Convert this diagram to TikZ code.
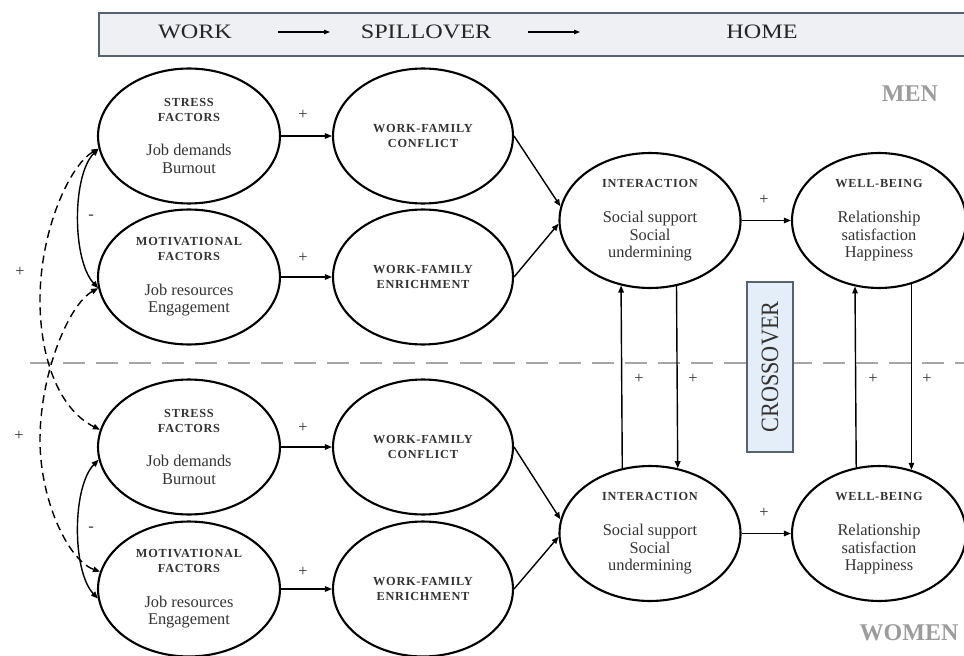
\documentclass[tikz,border=0pt]{standalone}
\usepackage{fontspec}
\setmainfont{Liberation Serif}
\usetikzlibrary{arrows.meta,shapes.geometric}
\newlength\pxu
\setlength\pxu{0.03cm}
\definecolor{bannerfill}{HTML}{EEF0F3}
\definecolor{bannerdraw}{HTML}{56626E}
\definecolor{crossfill}{HTML}{E4EEF9}
\definecolor{txt}{HTML}{333333}
\definecolor{sepgray}{HTML}{A6A6A6}
\definecolor{labgray}{HTML}{9C9C9C}
\newcommand\ttl[1]{{\fontsize{10.5}{12.75}\selectfont\bfseries\addfontfeatures{LetterSpace=6}#1}}
\newcommand\hdtxt[1]{\scalebox{1.18}[1]{\fontsize{17.5}{17.5}\selectfont #1}}
\begin{document}
\begin{tikzpicture}[x=0.03cm,y=-0.03cm,
  ell/.style={ellipse,draw=black,line width=1.8pt,minimum width=155.3pt,minimum height=115.2pt,
    inner sep=0pt,align=center,text=txt,font=\fontsize{14}{15}\selectfont},
  arr/.style={line width=1.2pt,-{Triangle[length=6pt,width=4.7pt]}},
  darr/.style={line width=1.2pt,{Triangle[length=6pt,width=4.7pt]}-{Triangle[length=6pt,width=4.7pt]}},
  dsh/.style={dash pattern=on 6.8pt off 4.3pt},
  sign/.style={text=txt,font=\fontsize{14}{14}\selectfont,inner sep=0pt},
  head/.style={text=black!85,inner sep=0pt},
  gender/.style={text=labgray,font=\fontsize{20.5}{20.5}\selectfont\bfseries,inner sep=0pt}]
\useasboundingbox (0,0) rectangle (964,656);
\fill[white] (0,0) rectangle (964,656);
% banner
\node[draw=bannerdraw,fill=bannerfill,line width=1.6pt,rectangle,anchor=north west,
  minimum width=751pt,minimum height=36.7pt,inner sep=0pt] (banner) at (98,12) {};
\node[head] (work) at (195,32) {\hdtxt{WORK}};
\node[head] (spill) at (426,32) {\hdtxt{SPILLOVER}};
\node[head] (home) at (762,32) {\hdtxt{HOME}};
\coordinate (a1s) at (278,32); \coordinate (a1e) at (330,32);
\coordinate (a2s) at (528,32); \coordinate (a2e) at (580,32);
\draw[line width=0.9pt,-{Triangle[length=5.1pt,width=3.8pt]}] (a1s) -- (a1e);
\draw[line width=0.9pt,-{Triangle[length=5.1pt,width=3.8pt]}] (a2s) -- (a2e);
% separator
\coordinate (sepL) at (30,363); \coordinate (sepR) at (966,363);
\draw[sepgray,line width=1.7pt,dash pattern=on 18.8pt off 9.4pt] (sepL) -- (sepR);
% ellipses left column
\node[ell] (sM) at (189,136) {\ttl{STRESS}\\[-2.25pt]\ttl{FACTORS}\\[14.5pt]Job demands\\Burnout};
\node[ell] (mM) at (189,277) {\ttl{MOTIVATIONAL}\\[-2.25pt]\ttl{FACTORS}\\[14.5pt]Job resources\\Engagement};
\node[ell] (sW) at (189,447) {\ttl{STRESS}\\[-2.25pt]\ttl{FACTORS}\\[14.5pt]Job demands\\Burnout};
\node[ell] (mW) at (189,589) {\ttl{MOTIVATIONAL}\\[-2.25pt]\ttl{FACTORS}\\[14.5pt]Job resources\\Engagement};
% spillover column
\node[ell,minimum width=153.6pt] (cM) at (423,136) {\ttl{WORK-FAMILY}\\[-2.25pt]\ttl{CONFLICT}};
\node[ell,minimum width=153.6pt] (eM) at (423,277) {\ttl{WORK-FAMILY}\\[-2.25pt]\ttl{ENRICHMENT}};
\node[ell,minimum width=153.6pt] (cW) at (423,447) {\ttl{WORK-FAMILY}\\[-2.25pt]\ttl{CONFLICT}};
\node[ell,minimum width=153.6pt] (eW) at (423,589) {\ttl{WORK-FAMILY}\\[-2.25pt]\ttl{ENRICHMENT}};
% home column
\node[ell,minimum width=154.5pt] (iM) at (650,220.5) {\ttl{INTERACTION}\\[14.5pt]Social support\\Social\\undermining};
\node[ell,minimum width=148.5pt] (wM) at (879,220.5) {\ttl{WELL-BEING}\\[14.5pt]Relationship\\satisfaction\\Happiness};
\node[ell,minimum width=154.5pt] (iW) at (650,533.5) {\ttl{INTERACTION}\\[14.5pt]Social support\\Social\\undermining};
\node[ell,minimum width=148.5pt] (wW) at (879,533.5) {\ttl{WELL-BEING}\\[14.5pt]Relationship\\satisfaction\\Happiness};
% crossover box
\node[draw=bannerdraw,fill=crossfill,line width=1.7pt,rectangle,minimum width=39.3pt,minimum height=145pt,
  inner sep=0pt] (cross) at (770,367) {};
\node[rotate=90,text=txt,inner sep=0pt] (crosst) at (cross.center)
  {\scalebox{1}[1.12]{\fontsize{19}{19}\selectfont CROSSOVER}};
% gender labels
\node[gender] (men) at (910,94) {MEN};
\node[gender] (women) at (909,633) {WOMEN};
% spillover arrows
\draw[arr] (sM) -- (cM);
\draw[arr] (mM) -- (eM);
\draw[arr] (sW) -- (cW);
\draw[arr] (mW) -- (eW);
\draw[arr] (cM.east) -- (iM.171);
\draw[arr] (eM.east) -- (iM.182);
\draw[arr] (cW.east) -- (iW.171);
\draw[arr] (eW.east) -- (iW.182);
\draw[arr] (iM) -- (wM);
\draw[arr] (iW) -- (wW);
% crossover arrows
\draw[arr] (iW.113.6) -- (iM.246.4);
\draw[arr] (iM.292.75) -- (iW.67.25);
\draw[arr] (wW.109.45) -- (wM.250.55);
\draw[arr] (wM.297) -- (wW.63);
% left curves
\draw[darr] (sM.188) .. controls (72,175) and (72,260) .. (mM.187);
\draw[darr] (sW.188) .. controls (72,487) and (72,571) .. (mW.186);
\draw[darr,dsh] (sM.188) .. controls (70,165) and (40,230) .. (40,300)
   .. controls (40,360) and (60,410) .. (sW.169);
\draw[darr,dsh] (mM.187) .. controls (68,305) and (40,375) .. (40,440)
   .. controls (40,500) and (68,560) .. (mW.169);
% signs
\node[sign] (p1) at (303,115) {+};
\node[sign] (p2) at (303,258) {+};
\node[sign] (p3) at (303,428) {+};
\node[sign] (p4) at (303,572) {+};
\node[sign] (p5) at (764,200) {+};
\node[sign] (p6) at (764,513) {+};
\node[sign] (p7) at (639,379) {+};
\node[sign] (p8) at (693,379) {+};
\node[sign] (p9) at (873,379) {+};
\node[sign] (p10) at (927,379) {+};
\node[sign] (p11) at (20,272) {+};
\node[sign] (p12) at (19,436) {+};
\node[sign] (m1) at (91,217) {-};
\node[sign] (m2) at (91,529) {-};
\end{tikzpicture}
\end{document}
